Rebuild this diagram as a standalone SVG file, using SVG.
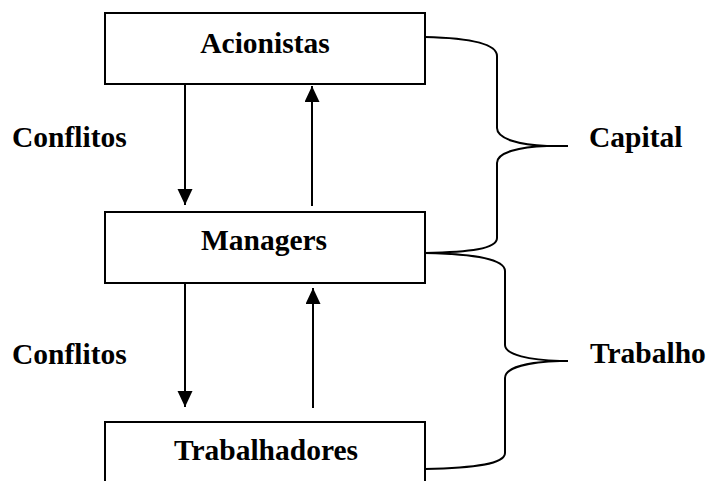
<svg xmlns="http://www.w3.org/2000/svg" width="707" height="481" viewBox="0 0 707 481">
<defs>
<style>
.box{fill:#fff;stroke:#000;stroke-width:2}
.t{font-family:"Liberation Serif","Times New Roman",serif;font-weight:bold;font-size:29.5px;fill:#000}
.c{text-anchor:middle}
.arr{stroke:#000;stroke-width:2;fill:none;marker-end:url(#ah)}
.br{stroke:#000;stroke-width:2;fill:none}
</style>
<marker id="ah" markerUnits="userSpaceOnUse" markerWidth="16" markerHeight="16" refX="16" refY="7.5" orient="auto">
<path d="M0,0 L16,7.5 L0,15 z" fill="#000"/>
</marker>
</defs>
<rect width="707" height="481" fill="#fff"/>
<g id="acionistas">
<rect class="box" x="105" y="13" width="320" height="71"/>
<text class="t c" x="265" y="53">Acionistas</text>
</g>
<g id="managers">
<rect class="box" x="105" y="212" width="320" height="71"/>
<text class="t c" x="264" y="250">Managers</text>
</g>
<g id="trabalhadores">
<rect class="box" x="105" y="422" width="320" height="70"/>
<text class="t c" x="266" y="460">Trabalhadores</text>
</g>
<g id="labels">
<text class="t" x="12" y="147">Conflitos</text>
<text class="t" x="12" y="364">Conflitos</text>
<text class="t" x="589" y="147">Capital</text>
<text class="t" x="590" y="363">Trabalho</text>
</g>
<g id="connectors">
<line class="arr" x1="185" y1="84" x2="185" y2="205"/>
<line class="arr" x1="312" y1="206" x2="312" y2="86"/>
<line class="arr" x1="185" y1="283" x2="185" y2="407"/>
<line class="arr" x1="313" y1="408" x2="313" y2="288"/>
<path class="br" d="M425,37 C470,38 497,44 497,56 L497,128 C497,139 520,145 547,146 L568,146 M547,146 C520,147 497,152 497,163 L497,238 C497,249 470,252 425,253"/>
<path class="br" d="M425,253 C475,254 505,259 505,271 L505,345 C505,355 530,360 560,361 L568,361 M560,361 C530,362 505,367 505,378 L505,453 C505,464 475,468 425,469"/>
</g>
</svg>
